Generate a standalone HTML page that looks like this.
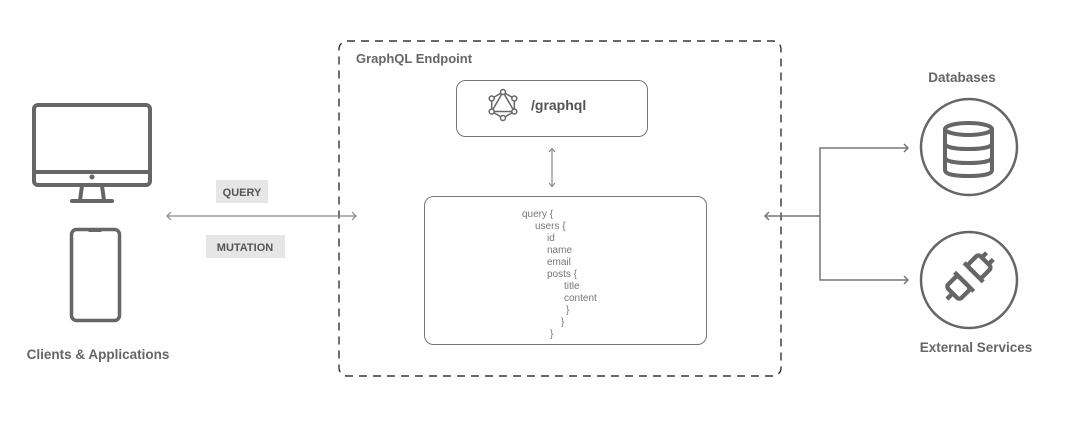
<!DOCTYPE html>
<html><head><meta charset="utf-8"><style>
html,body{margin:0;padding:0;background:#fff;}
svg{display:block;}
text{font-family:"Liberation Sans",sans-serif;}
</style></head><body>
<svg width="1071" height="425" viewBox="0 0 1071 425" xmlns="http://www.w3.org/2000/svg">
<rect x="339" y="41" width="442" height="335" rx="8" fill="none" stroke="#111" stroke-width="1.2" stroke-dasharray="8,6"/>
<text x="356" y="63" font-size="13" font-weight="bold" fill="#666">GraphQL Endpoint</text>
<rect x="456.5" y="80.5" width="191" height="56" rx="9" fill="#fff" stroke="#777" stroke-width="1"/>
<g stroke="#666" stroke-width="1.5" fill="#fff">
<polygon points="503,92 514.3,98.5 514.3,111.5 503,118 491.7,111.5 491.7,98.5" fill="none"/>
<polygon points="503,92 514.3,111.5 491.7,111.5" fill="none"/>
<circle cx="503" cy="92" r="2.5"/><circle cx="514.3" cy="98.5" r="2.5"/><circle cx="514.3" cy="111.5" r="2.5"/>
<circle cx="503" cy="118" r="2.5"/><circle cx="491.7" cy="111.5" r="2.5"/><circle cx="491.7" cy="98.5" r="2.5"/>
</g>
<text x="531" y="110" font-size="14" font-weight="bold" fill="#555">/graphql</text>
<g stroke="#888" stroke-width="1.2" fill="none">
<line x1="552" y1="149" x2="552" y2="186"/>
<polyline points="549,152 552,148.5 555,152"/>
<polyline points="549,183 552,186.5 555,183"/>
</g>
<rect x="424.5" y="196.5" width="282" height="148" rx="9" fill="#fff" stroke="#777" stroke-width="1"/>
<g font-size="10" fill="#777">
<text x="522" y="217">query {</text>
<text x="535" y="229">users {</text>
<text x="547" y="241">id</text>
<text x="547" y="253">name</text>
<text x="547" y="265">email</text>
<text x="547" y="277">posts {</text>
<text x="564" y="289">title</text>
<text x="564" y="301">content</text>
<text x="566" y="313">}</text>
<text x="561" y="325">}</text>
<text x="550" y="337">}</text>
</g>
<g stroke="#888" stroke-width="1.2" fill="none">
<line x1="167" y1="216" x2="356" y2="216"/>
<polyline points="171,212 167,216 171,220"/>
<polyline points="352,212 356,216 352,220"/>
</g>
<rect x="216" y="180" width="52" height="23" fill="#e6e6e6"/>
<text x="242" y="196" font-size="11" font-weight="bold" fill="#555" text-anchor="middle">QUERY</text>
<rect x="206" y="235" width="79" height="23" fill="#e6e6e6"/>
<text x="245" y="251" font-size="11" font-weight="bold" fill="#555" text-anchor="middle">MUTATION</text>
<g stroke="#666" stroke-width="4" fill="none" stroke-linejoin="round">
<rect x="34" y="105" width="116" height="80" rx="4"/>
<line x1="34" y1="172" x2="150" y2="172"/>
<path d="M82,186 L80,200 M102,186 L104,200"/>
<line x1="72" y1="201" x2="112" y2="201" stroke-linecap="round"/>
<rect x="71.5" y="229.5" width="48" height="91" rx="5" stroke-width="3.5"/>
</g>
<circle cx="92" cy="177" r="2.5" fill="#666"/>
<rect x="88" y="229" width="14" height="3" rx="1.5" fill="#666"/>
<text x="98" y="359" font-size="13.5" font-weight="bold" fill="#666" text-anchor="middle">Clients &amp; Applications</text>
<g stroke="#777" stroke-width="1.5" fill="none">
<line x1="765" y1="216" x2="820" y2="216"/>
<polyline points="769,212 765,216 769,220"/>
<polyline points="908,148 820,148 820,280 908,280"/>
<polyline points="904,144 908,148 904,152"/>
<polyline points="904,276 908,280 904,284"/>
</g>
<text x="962" y="82" font-size="13.5" font-weight="bold" fill="#666" text-anchor="middle">Databases</text>
<circle cx="969" cy="147" r="48" fill="none" stroke="#666" stroke-width="2.5"/>
<g stroke="#666" stroke-width="4" fill="none">
<ellipse cx="968.5" cy="129" rx="23.5" ry="6"/>
<path d="M945,129 V170 Q945,176 968.5,176 Q992,176 992,170 V129"/>
<path d="M945,143 Q945,149 968.5,149 Q992,149 992,143"/>
<path d="M945,157 Q945,163 968.5,163 Q992,163 992,157"/>
</g>
<circle cx="969" cy="280" r="48" fill="none" stroke="#666" stroke-width="2.5"/>
<g transform="translate(967,279) rotate(45) scale(1.35)" stroke="#666" stroke-width="3.2" fill="none" stroke-linejoin="round">
<rect x="-7" y="-19" width="14" height="12" rx="2.5"/>
<line x1="-10" y1="-7" x2="10" y2="-7"/>
<line x1="-3.5" y1="-19" x2="-3.5" y2="-24"/><line x1="3.5" y1="-19" x2="3.5" y2="-24"/>
<rect x="-7" y="3" width="14" height="12" rx="2.5"/>
<line x1="-10" y1="3" x2="10" y2="3"/>
<line x1="0" y1="15" x2="0" y2="21"/>
</g>
<text x="976" y="352" font-size="13.5" font-weight="bold" fill="#666" text-anchor="middle">External Services</text>
</svg>
</body></html>
